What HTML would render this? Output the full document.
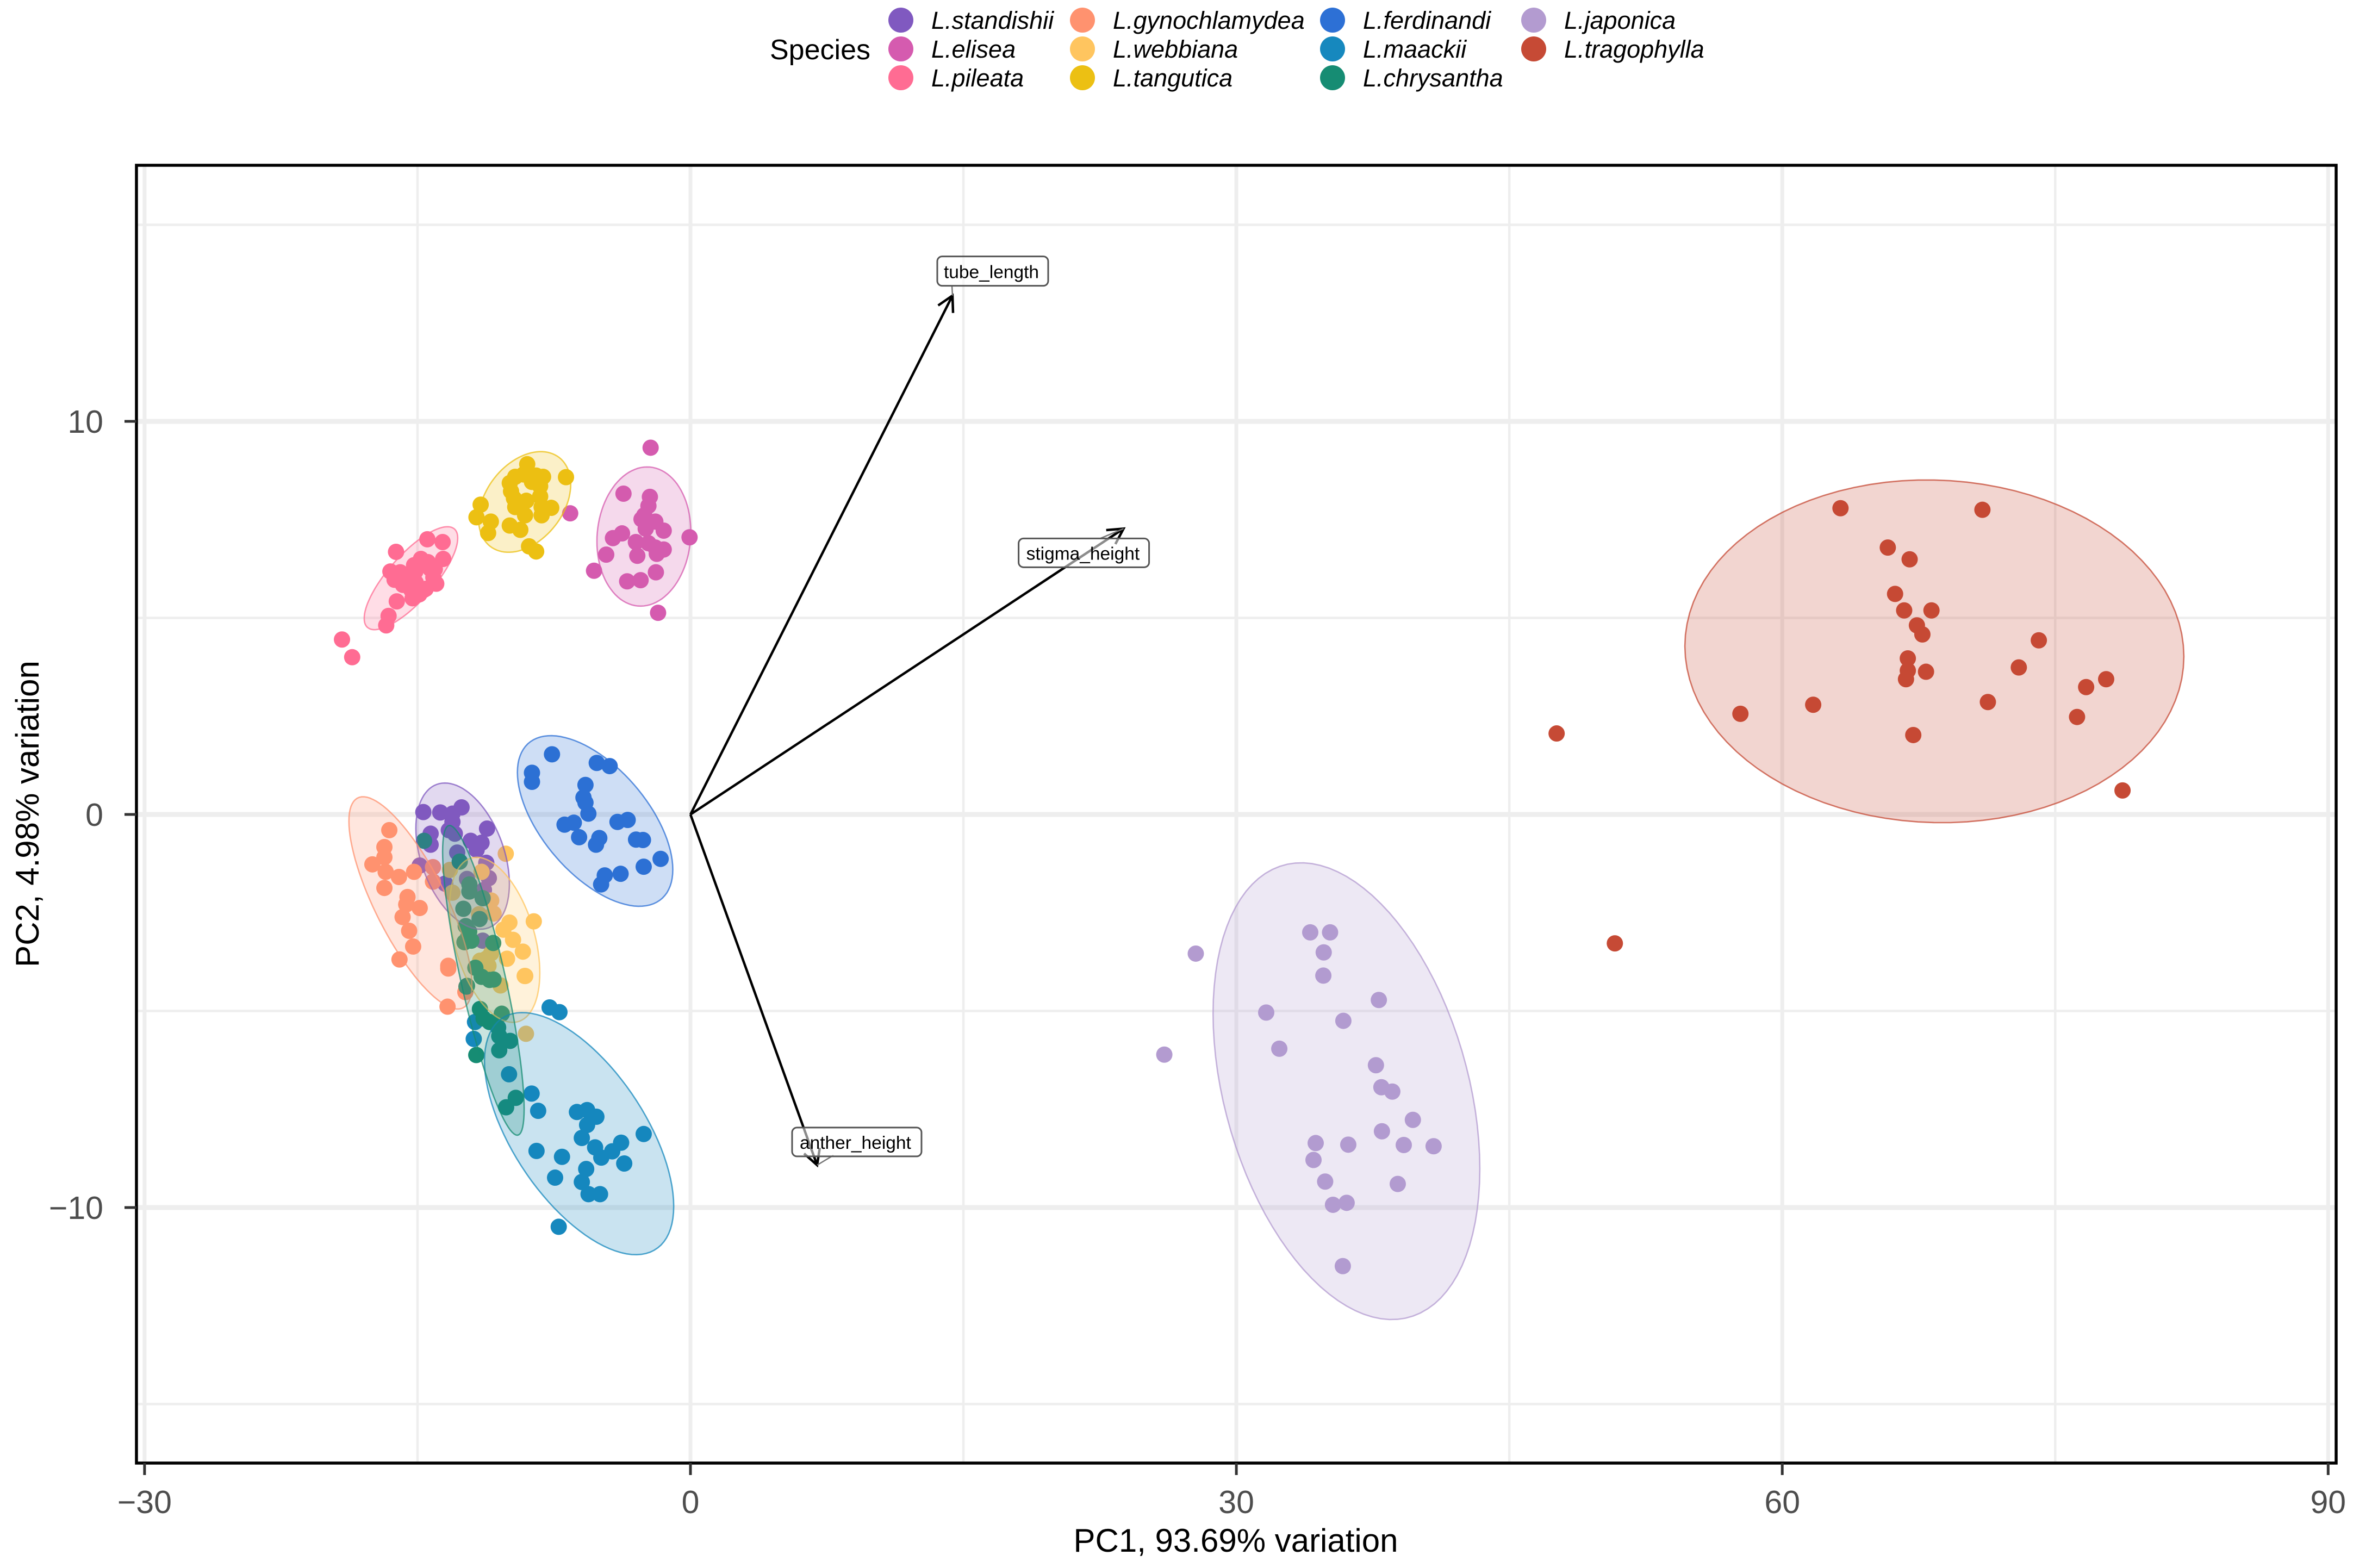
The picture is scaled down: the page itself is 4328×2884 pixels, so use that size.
<!DOCTYPE html>
<html lang="en">
<head>
<meta charset="utf-8">
<title>PCA biplot of Lonicera species</title>
<style>
html,body{margin:0;padding:0;background:#fff;width:4328px;height:2884px;overflow:hidden}
svg{display:block}
text{font-family:"Liberation Sans",Arial,sans-serif}
</style>
</head>
<body>
<svg id="chart" xmlns="http://www.w3.org/2000/svg" width="4328" height="2884" viewBox="0 0 4328 2884">
  <rect x="0" y="0" width="4328" height="2884" fill="#fff"/>
  <g id="grid"></g>
  <g id="points"></g>
  <g id="ellipses"></g>
  <g id="arrows"></g>
  <g id="labels"></g>
  <rect x="251" y="304" width="4046" height="2387" fill="none" stroke="#000" stroke-width="5.5"/>
  <g id="axes"></g>
  <text x="2273" y="2854" font-size="60" text-anchor="middle" fill="#000">PC1, 93.69% variation</text>
  <text transform="translate(71,1497) rotate(-90)" font-size="60" text-anchor="middle" fill="#000">PC2, 4.98% variation</text>
  <g id="legend">
    <text x="1416" y="109" font-size="52" fill="#000">Species</text>
  </g>
</svg>
<script>
// ---- Chart data ----
const xTicks = [-30, 0, 30, 60, 90];
const yTicks = [-10, 0, 10];
const xMinorGrid = [-15, 15, 45, 75];
const yMinorGrid = [-15, -5, 5, 15];

const speciesNames = ["L.standishii","L.elisea","L.pileata","L.gynochlamydea","L.webbiana","L.tangutica","L.ferdinandi","L.maackii","L.chrysantha","L.japonica","L.tragophylla"];

const standishiiScores = [[-14.68,.06],[-13.75,.05],[-12.58,.18],[-13.08,.02],[-13.08,-.19],[-13.28,-.40],[-12.95,-.49],[-11.18,-.36],[-14.28,-.49],[-14.28,-.77],[-12.08,-.67],[-11.48,-.72],[-11.75,-.90],[-12.82,-.97],[-11.22,-1.23],[-14.88,-1.30],[-13.48,-1.76],[-11.08,-1.62],[-11.42,-3.21],[-12.28,-1.64],[-11.35,-1.92]];
const eliseaScores = [[-2.19,9.33],[-6.61,7.66],[-3.68,8.16],[-2.23,8.08],[-2.31,7.85],[-2.54,7.61],[-2.69,7.51],[-1.93,7.45],[-2.46,7.27],[-1.47,7.22],[-.05,7.05],[-3.76,7.15],[-4.26,7.03],[-4.63,6.61],[-5.30,6.20],[-3.0,6.93],[-2.31,6.90],[-2.92,6.58],[-1.85,6.63],[-1.47,6.74],[-1.93,6.79],[-1.90,6.16],[-3.48,5.93],[-2.74,5.96],[-1.78,5.13]];
const pileataScores = [[-19.15,4.45],[-18.59,4.00],[-16.72,4.81],[-16.59,5.05],[-16.14,5.42],[-15.27,5.50],[-16.18,6.68],[-14.46,7.0],[-13.62,6.93],[-13.59,6.50],[-16.49,6.18],[-15.95,6.16],[-16.26,5.97],[-15.80,5.84],[-15.34,5.97],[-14.81,6.50],[-14.43,6.42],[-15.19,6.34],[-15.12,6.18],[-14.3,6.25],[-14.13,6.03],[-13.97,5.87],[-14.66,5.71],[-15.34,5.71],[-15.1,5.9],[-14.05,6.24],[-15.73,6.03],[-15.75,5.88],[-14.55,5.74],[-14.9,5.6]];
const gynochlamydeaScores = [[-16.55,-.40],[-16.82,-.83],[-16.82,-1.09],[-17.48,-1.27],[-16.75,-1.46],[-16.02,-1.59],[-15.19,-1.46],[-16.82,-1.87],[-15.55,-2.10],[-15.62,-2.29],[-14.88,-2.38],[-15.82,-2.61],[-15.46,-2.96],[-15.24,-3.36],[-15.99,-3.69],[-13.31,-3.85],[-14.15,-1.34],[-14.15,-1.71],[-13.35,-4.89],[-12.37,-4.52],[-13.31,-3.92]];
const webbianaScores = [[-10.15,-1.0],[-8.61,-2.72],[-9.95,-2.75],[-10.28,-2.93],[-9.75,-3.19],[-9.21,-3.49],[-10.08,-3.67],[-9.08,-4.11],[-13.22,-1.41],[-11.48,-1.46],[-13.08,-1.99],[-10.95,-2.19],[-10.82,-2.52],[-11.22,-3.67],[-11.62,-2.54],[-9.04,-5.58],[-9.11,-4.11],[-10.44,-4.35],[-10.95,-3.53],[-11.56,-3.72],[-11.1,-3.85]];
const tanguticaScores = [[-8.97,8.91],[-9.63,8.59],[-8.10,8.59],[-6.84,8.58],[-9.93,8.43],[-9.86,8.22],[-8.26,8.35],[-8.48,8.62],[-9.17,8.65],[-9.70,8.04],[-9.63,7.82],[-8.26,8.09],[-7.65,7.80],[-9.09,7.61],[-8.18,7.61],[-8.18,7.82],[-8.71,8.46],[-9.02,7.98],[-11.53,7.88],[-11.76,7.56],[-10.97,7.45],[-11.12,7.16],[-9.93,7.35],[-9.35,7.24],[-8.87,6.82],[-8.48,6.69]];
const ferdinandiScores = [[-7.61,1.53],[-5.15,1.31],[-4.44,1.23],[-8.71,1.06],[-8.71,.83],[-5.77,.75],[-5.88,.43],[-5.77,.30],[-5.61,.02],[-6.92,-.26],[-6.41,-.21],[-6.12,-.58],[-4.01,-.19],[-3.45,-.14],[-5.01,-.60],[-5.19,-.77],[-2.99,-.64],[-2.61,-.65],[-1.64,-1.13],[-2.57,-1.33],[-3.84,-1.51],[-4.71,-1.55],[-4.91,-1.78]];
const maackiiScores = [[-11.91,-5.71],[-11.84,-5.28],[-7.74,-4.91],[-7.20,-5.03],[-9.97,-6.61],[-8.73,-7.10],[-8.37,-7.54],[-6.24,-7.57],[-5.68,-7.52],[-5.17,-7.69],[-5.68,-7.90],[-5.97,-8.23],[-5.24,-8.47],[-2.57,-8.13],[-3.81,-8.35],[-4.30,-8.57],[-4.90,-8.73],[-3.64,-8.88],[-8.46,-8.56],[-7.06,-8.71],[-5.73,-9.02],[-7.44,-9.24],[-5.97,-9.35],[-5.60,-9.66],[-4.97,-9.66],[-7.24,-10.49]];
const chrysanthaScores = [[-14.64,-.67],[-12.68,-1.20],[-12.15,-1.78],[-12.15,-1.96],[-11.42,-2.13],[-12.48,-2.40],[-11.59,-2.66],[-12.35,-2.84],[-12.22,-3.12],[-12.42,-3.25],[-10.84,-3.27],[-11.82,-3.90],[-11.48,-4.13],[-10.82,-4.20],[-12.28,-4.36],[-11.04,-4.21],[-12.31,-4.38],[-11.57,-4.95],[-11.37,-5.19],[-11.04,-5.28],[-10.37,-5.07],[-10.57,-5.42],[-10.51,-5.64],[-9.91,-5.76],[-10.51,-6.0],[-11.77,-6.12],[-9.60,-7.21],[-10.13,-7.45],[-12.16,-2.98],[-12.04,-3.21]];
const japonicaScores = [[34.06,-3.0],[35.15,-3.0],[34.8,-3.51],[34.78,-4.10],[27.77,-3.54],[37.83,-4.72],[31.64,-5.04],[35.88,-5.25],[32.36,-5.96],[26.04,-6.11],[37.67,-6.38],[37.97,-6.94],[38.57,-7.05],[39.7,-7.77],[38.0,-8.06],[34.36,-8.36],[36.15,-8.40],[39.2,-8.41],[40.84,-8.44],[34.24,-8.79],[34.88,-9.34],[38.87,-9.40],[35.31,-9.93],[36.06,-9.88],[35.85,-11.49]];
const tragophyllaScores = [[63.2,7.79],[71.0,7.75],[65.8,6.79],[67.0,6.49],[66.2,5.61],[66.7,5.19],[68.2,5.19],[67.4,4.81],[67.7,4.58],[66.9,3.97],[66.9,3.66],[67.9,3.63],[66.8,3.44],[74.1,4.43],[73.0,3.74],[77.8,3.44],[76.7,3.24],[71.3,2.86],[61.7,2.79],[57.7,2.56],[76.2,2.48],[67.2,2.02],[47.6,2.06],[78.7,.61],[50.8,-3.28]];

// Ellipse summaries in PC units, species order
const ellipseCx  = [-12.52, -2.56, -15.36, -15.39, -10.76, -9.11, -5.24, -6.12, -11.38, 36.05, 68.36];
const ellipseCy  = [-1.06, 7.07, 6.01, -2.25, -3.19, 7.95, -.166, -8.12, -4.22, -7.04, 4.15];
const ellipseRx  = [2.57, 2.58, 2.57, 3.38, 2.48, 2.53, 4.27, 5.20, 2.24, 7.33, 13.71];
const ellipseRy  = [1.86, 1.77, 1.31, 2.70, 2.10, 1.28, 2.17, 3.08, 3.94, 5.81, 4.36];
const ellipseRho = [-.38, .07, .78, -.77, -.40, .35, -.57, -.60, -.83, -.34, -.03];

// Loadings
const loadingNames = ["tube_length", "stigma_height", "anther_height"];
const loadingX = [14.4, 23.8, 6.96];
const loadingY = [13.2, 7.27, -8.92];

// ---- Styling and layout ----
const speciesColors = ["#8059C0","#D55BAF","#FF6C93","#FF926F","#FFC55F","#ECC013","#2D70D5","#1688BE","#168C73","#B39BD0","#C64A35"];
const allScores = [standishiiScores, eliseaScores, pileataScores, gynochlamydeaScores, webbianaScores, tanguticaScores, ferdinandiScores, maackiiScores, chrysanthaScores, japonicaScores, tragophyllaScores];
const legendColumnX = [1657, 1991, 2451, 2821];
const legendRowY = [37, 90, 143];
const legendColumnOf = [0,0,0,1,1,1,2,2,2,3,3];
const legendRowOf = [0,1,2,0,1,2,0,1,2,0,1];
const labelBoxes = [
  {dx:-28, dy:-72, w:204, h:54, tx:12, ty:40, cx:27, cy:54},
  {dx:-193, dy:18, w:240, h:53, tx:14, ty:39, cx:150, cy:0},
  {dx:-46, dy:-69, w:238, h:53, tx:14, ty:39, cx:76, cy:51}
];

const NS = "http://www.w3.org/2000/svg";
const scaleX = v => 1270 + v * 33.47;
const scaleY = v => 1498 - v * 72.3;

function make(tag, attrs, parent) {
  const el = document.createElementNS(NS, tag);
  for (const k in attrs) el.setAttribute(k, attrs[k]);
  parent.appendChild(el);
  return el;
}
const gridG = document.getElementById("grid");
const pointsG = document.getElementById("points");
const ellipsesG = document.getElementById("ellipses");
const arrowsG = document.getElementById("arrows");
const labelsG = document.getElementById("labels");
const axesG = document.getElementById("axes");
const legendG = document.getElementById("legend");
const slug = s => s.replace("L.", "").toLowerCase();

// Grid
xMinorGrid.forEach(v => {
  const el = make("line", {x1:scaleX(v), x2:scaleX(v), y1:304, y2:2691, stroke:"#eeeeee", "stroke-width":4.5}, gridG);
  
  
});
yMinorGrid.forEach(v => {
  const el = make("line", {x1:251, x2:4297, y1:scaleY(v), y2:scaleY(v), stroke:"#eeeeee", "stroke-width":4.5}, gridG);
  
  
});
xTicks.forEach(v => {
  const el = make("line", {x1:scaleX(v), x2:scaleX(v), y1:304, y2:2691, stroke:"#eeeeee", "stroke-width":7}, gridG);
  
  
});
yTicks.forEach(v => {
  const el = make("line", {x1:251, x2:4297, y1:scaleY(v), y2:scaleY(v), stroke:"#eeeeee", "stroke-width":9}, gridG);
  
  
});

// Points
allScores.forEach((scores, s) => {
  scores.forEach(p => {
    const el = make("circle", {cx:scaleX(p[0]), cy:scaleY(p[1]), r:15, fill:speciesColors[s]}, pointsG);
    
    
  });
});

// Ellipses
speciesNames.forEach((name, s) => {
  const phi = Math.acos(ellipseRho[s]);
  let d = "";
  for (let i = 0; i < 96; i++) {
    const t = i / 96 * 2 * Math.PI;
    const px = scaleX(ellipseCx[s] + ellipseRx[s] * Math.cos(t));
    const py = scaleY(ellipseCy[s] + ellipseRy[s] * Math.cos(t + phi));
    d += (i ? "L" : "M") + px.toFixed(1) + " " + py.toFixed(1);
  }
  const el = make("path", {d:d + "Z", fill:speciesColors[s], "fill-opacity":0.23, stroke:speciesColors[s], "stroke-opacity":0.75, "stroke-width":2.6}, ellipsesG);
  
  
});

// Arrows
loadingNames.forEach((name, i) => {
  const x = scaleX(loadingX[i]), y = scaleY(loadingY[i]);
  const x0 = scaleX(0), y0 = scaleY(0);
  const ang = Math.atan2(y - y0, x - x0);
  const len = 32, spread = 0.5;
  const hx1 = x - len * Math.cos(ang - spread), hy1 = y - len * Math.sin(ang - spread);
  const hx2 = x - len * Math.cos(ang + spread), hy2 = y - len * Math.sin(ang + spread);
  const shaft = make("line", {x1:x0, y1:y0, x2:x, y2:y, stroke:"#000", "stroke-width":4.5}, arrowsG);
  
  
  const head = make("polyline", {points:hx1 + "," + hy1 + " " + x + "," + y + " " + hx2 + "," + hy2, fill:"none", stroke:"#000", "stroke-width":4.5}, arrowsG);
  
  
});

// Labels
loadingNames.forEach((name, i) => {
  const x = scaleX(loadingX[i]), y = scaleY(loadingY[i]);
  const b = labelBoxes[i];
  const bx = x + b.dx, by = y + b.dy;
  const conn = make("line", {x1:x, y1:y, x2:bx + b.cx, y2:by + b.cy, stroke:"#777", "stroke-width":2.5}, labelsG);
  
  
  const box = make("rect", {x:bx, y:by, width:b.w, height:b.h, rx:9, fill:"#fff", "fill-opacity":0.55, stroke:"#555", "stroke-width":3}, labelsG);
  
  
  const txt = make("text", {x:bx + b.tx, y:by + b.ty, "font-size":33.5, fill:"#000"}, labelsG);
  txt.textContent = name;
  
  
});

// Axes
const fmt = v => (v < 0 ? "\u2212" + Math.abs(v) : String(v));
xTicks.forEach(v => {
  const tick = make("line", {x1:scaleX(v), x2:scaleX(v), y1:2691, y2:2713, stroke:"#333", "stroke-width":5}, axesG);
  
  
  const t = make("text", {x:scaleX(v), y:2783, "font-size":59, "text-anchor":"middle", fill:"#4d4d4d"}, axesG);
  t.textContent = fmt(v);
  
  
});
yTicks.forEach(v => {
  const tick = make("line", {x1:229, x2:251, y1:scaleY(v), y2:scaleY(v), stroke:"#333", "stroke-width":5}, axesG);
  
  
  const t = make("text", {x:190, y:scaleY(v) + 21, "font-size":59, "text-anchor":"end", fill:"#4d4d4d"}, axesG);
  t.textContent = fmt(v);
  
  
});

// Legend
speciesNames.forEach((name, s) => {
  const cx = legendColumnX[legendColumnOf[s]], cy = legendRowY[legendRowOf[s]];
  const key = make("circle", {cx:cx, cy:cy, r:23, fill:speciesColors[s]}, legendG);
  
  
  const t = make("text", {x:cx + 56, y:cy + 16, "font-size":45, "font-style":"italic", fill:"#000"}, legendG);
  t.textContent = name;
  
  
});
</script>
</body>
</html>
